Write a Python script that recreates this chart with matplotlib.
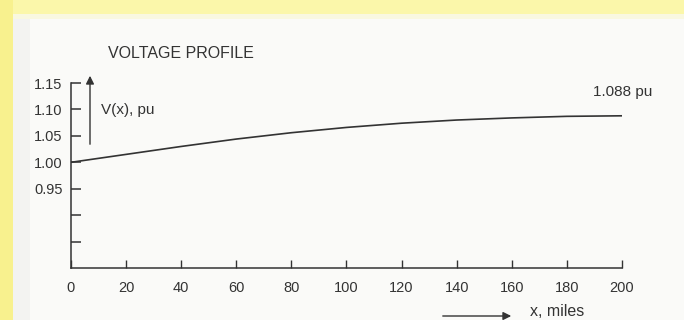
import matplotlib.pyplot as plt
from matplotlib.patches import Rectangle

plt.rcParams['font.family'] = ['Liberation Sans', 'DejaVu Sans']

# Voltage profile along the line
x_miles = [0, 20, 40, 60, 80, 100, 120, 140, 160, 180, 200]
v_pu = [1.000, 1.015, 1.030, 1.044, 1.056, 1.066, 1.074, 1.080, 1.084, 1.087, 1.088]

x_ticks = [0, 20, 40, 60, 80, 100, 120, 140, 160, 180, 200]
y_ticks = [0.85, 0.90, 0.95, 1.00, 1.05, 1.10, 1.15]
y_labels = ['', '', '0.95', '1.00', '1.05', '1.10', '1.15']

ink = '#333333'

fig = plt.figure(figsize=(6.84, 3.2), dpi=100)
fig.patch.set_facecolor('#fafaf8')

# scan border: yellow strips on top and left
fig.patches.append(Rectangle((0, 0.955), 1, 0.045, transform=fig.transFigure,
                             facecolor='#fbf7aa', edgecolor='none', zorder=0))
fig.patches.append(Rectangle((0, 0.94), 1, 0.015, transform=fig.transFigure,
                             facecolor='#f9f8e0', edgecolor='none', zorder=0))
fig.patches.append(Rectangle((0, 0), 0.019, 1, transform=fig.transFigure,
                             facecolor='#f8f18e', edgecolor='none', zorder=0))
fig.patches.append(Rectangle((0.019, 0), 0.025, 0.94, transform=fig.transFigure,
                             facecolor='#f3f3f1', edgecolor='none', zorder=0))

ax = fig.add_axes([0.1038, 0.1625, 0.8055, 0.578])
ax.set_facecolor('none')
ax.plot(x_miles, v_pu, color=ink, lw=1.2)

ax.set_xlim(0, 200)
ax.set_ylim(0.80, 1.15)
for s in ['top', 'right']:
    ax.spines[s].set_visible(False)
for s in ['left', 'bottom']:
    ax.spines[s].set_color(ink)
    ax.spines[s].set_linewidth(1.1)

ax.set_xticks(x_ticks)
ax.set_xticklabels([str(t) for t in x_ticks])
ax.set_yticks(y_ticks)
ax.set_yticklabels(y_labels)
ax.tick_params(axis='y', direction='in', length=7, width=1.1, color=ink,
               labelsize=10.5, labelcolor=ink, pad=6)
ax.tick_params(axis='x', direction='in', length=6, width=1.0, color=ink,
               labelsize=10.5, labelcolor=ink, pad=9)

fig.text(108 / 684, 1 - 54 / 320, 'VOLTAGE PROFILE', fontsize=11.5, color=ink,
         ha='left', va='center')

# V(x) arrow and label
ax.annotate('', xy=(90 / 684, 1 - 73 / 320), xytext=(90 / 684, 1 - 147 / 320),
            xycoords='figure fraction', textcoords='figure fraction',
            arrowprops=dict(arrowstyle='-|>', color=ink, lw=1.0,
                            mutation_scale=12))
fig.text(101 / 684, 1 - 110 / 320, 'V(x), pu', fontsize=11, color=ink,
         ha='left', va='center')

fig.text(593 / 684, 1 - 92 / 320, '1.088 pu', fontsize=11, color=ink,
         ha='left', va='center')

# x arrow and label
ax.annotate('', xy=(514 / 684, 1 - 316 / 320), xytext=(440 / 684, 1 - 316 / 320),
            xycoords='figure fraction', textcoords='figure fraction',
            arrowprops=dict(arrowstyle='-|>', color=ink, lw=1.0,
                            mutation_scale=12))
fig.text(530 / 684, 1 - 312 / 320, 'x, miles', fontsize=11.5, color=ink,
         ha='left', va='center')

plt.savefig('out.png', dpi=100, facecolor=fig.get_facecolor())
